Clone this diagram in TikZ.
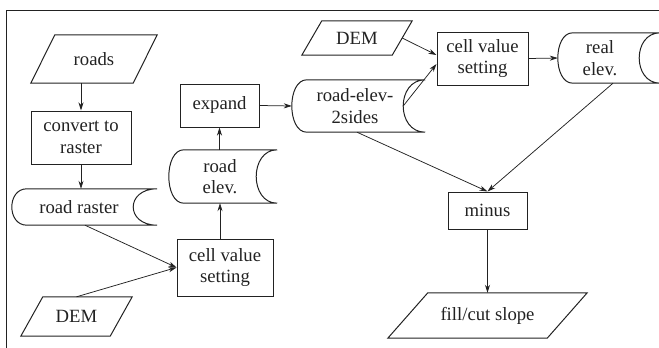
\documentclass[tikz,border=0pt]{standalone}
\usepackage{fontspec}
\setmainfont{Liberation Serif}
\newfontfamily\timesfont{Liberation Serif}
\usetikzlibrary{arrows.meta,calc}
\definecolor{ink}{HTML}{222222}
\tikzset{
  txt/.style={font={\timesfont\fontsize{18.7}{21.5}\selectfont}, align=center, inner sep=0pt, text=ink},
  boxnode/.style={txt, draw=ink, line width=1pt, rectangle},
  ghost/.style={txt, draw=none, rectangle},
  shp/.style={draw=ink, line width=1pt, line join=miter},
  arr/.style={draw=ink, line width=0.75pt, -{Stealth[length=8pt,width=5pt,inset=2.5pt]}},
  frameline/.style={draw=ink, line width=1pt}
}
% parallelogram outline around a ghost node: #1 node, #2 half slant
\newcommand\paraoutline[2]{%
  \draw[shp] ([xshift=#2pt]#1.north west) -- ([xshift=#2pt]#1.north east)
    -- ([xshift=-#2pt]#1.south east) -- ([xshift=-#2pt]#1.south west) -- cycle;}
% stored data outline: #1 node, #2 left depth, #3 right depth, #4 right extension
\newcommand\storedoutline[4]{%
  \draw[shp] ([xshift=#2pt]#1.north west) -- ([xshift=#4pt]#1.north east)
    .. controls +({-4/3*#3},0) and +({-4/3*#3},0) .. ([xshift=#4pt]#1.south east)
    -- ([xshift=#2pt]#1.south west)
    .. controls +({-4/3*#2},0) and +({-4/3*#2},0) .. ([xshift=#2pt]#1.north west) -- cycle;}
\begin{document}
\begin{tikzpicture}[x=1pt,y=-1pt]
\useasboundingbox (0,0) rectangle (659,348);
% frame
\coordinate (fb) at (6,348);
\coordinate (ftl) at (6,10);
\coordinate (ftr) at (660,10);
\draw[frameline] (fb) -- (ftl) -- (ftr);

% left column
\node[ghost, minimum width=102pt, minimum height=48pt] (roads) at (94,59) {roads};
\paraoutline{roads}{12}
\node[boxnode, minimum width=100pt, minimum height=53pt] (convert) at (81,137.5) {convert to\\raster};
\node[ghost, minimum width=134pt, minimum height=36pt] (rraster) at (79,207) {road raster};
\storedoutline{rraster}{15}{24}{11}
\node[ghost, minimum width=89pt, minimum height=39pt] (dem1) at (76.5,316.5) {DEM};
\paraoutline{dem1}{11}

% middle column
\node[boxnode, minimum width=96pt, minimum height=57pt] (cell1) at (225,267.5) {cell value\\setting};
\node[ghost, minimum width=102pt, minimum height=53pt] (relev) at (220,176.5) {road\\elev.};
\storedoutline{relev}{15}{21}{6}
\node[boxnode, minimum width=79pt, minimum height=43pt] (expand) at (219.5,105.5) {expand};

% right part
\node[ghost, minimum width=126pt, minimum height=52pt] (sides) at (355,106) {road-elev-\\2sides};
\storedoutline{sides}{15}{22}{7}
\node[ghost, minimum width=90pt, minimum height=34pt] (dem2) at (357,38) {DEM};
\paraoutline{dem2}{10}
\node[boxnode, minimum width=91pt, minimum height=53pt] (cell2) at (482.5,58.5) {cell value\\setting};
\node[ghost, minimum width=84pt, minimum height=50pt] (real) at (600,58) {real\\elev.};
\storedoutline{real}{15}{21}{18}
\node[boxnode, minimum width=79pt, minimum height=37pt] (minus) at (487.5,210.5) {minus};
\node[ghost, minimum width=159pt, minimum height=45pt] (fill) at (487.5,315.5) {fill/cut slope};
\paraoutline{fill}{20}

% connectors
\draw[arr] (roads.south -| convert.north) -- (convert.north);
\draw[arr] (convert.south) -- (convert.south |- rraster.north);
\draw[arr] ([xshift=6pt]rraster.south) -- (cell1.west);
\draw[arr] (dem1.north) -- (cell1.west);
\draw[arr] (relev.south |- cell1.north) -- (relev.south);
\draw[arr] (expand.south |- relev.north) -- (expand.south);
\draw[arr] (expand.east) -- (sides.west);
\draw[arr] (dem2.east) -- ([yshift=3.5pt]cell2.west);
\draw[arr] ([xshift=-15pt]sides.east) -- ([yshift=-5.5pt]cell2.west);
\draw[arr] (cell2.east) -- (real.west);
\draw[arr] ([xshift=2pt]sides.south) -- (minus.north);
\draw[arr] ([xshift=13pt]real.south) -- (minus.north);
\draw[arr] (minus.south) -- (fill.north);
\end{tikzpicture}
\end{document}
